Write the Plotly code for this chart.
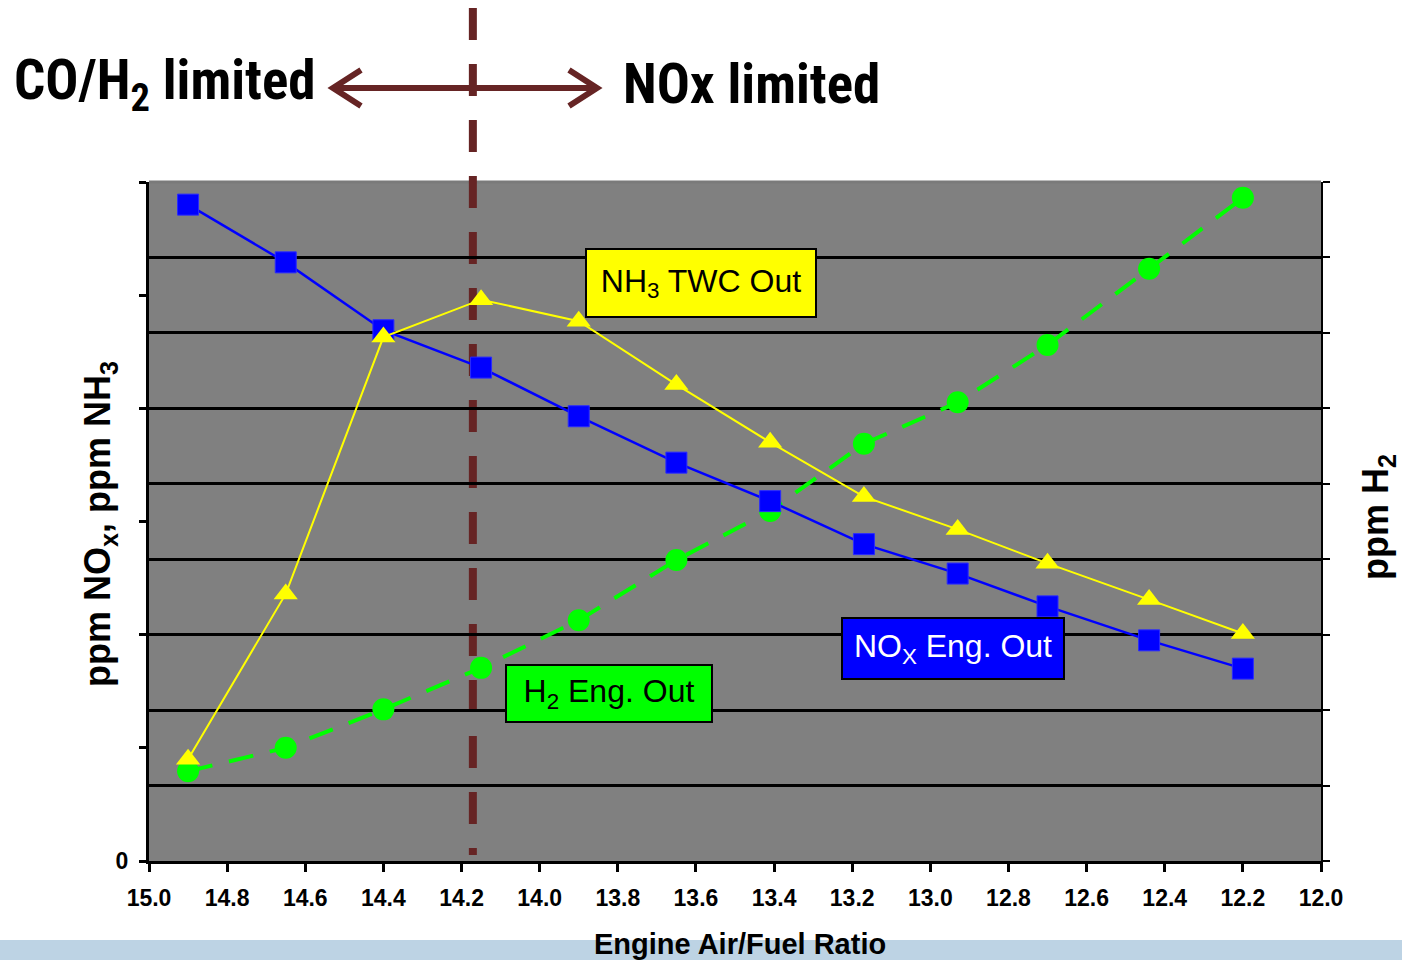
import plotly.graph_objects as go

# ---------------- data ----------------
afr = [14.90, 14.65, 14.40, 14.15, 13.90, 13.65, 13.41, 13.17, 12.93, 12.70, 12.44, 12.20]
nox_eng_out = [580, 529, 469, 436, 393, 352, 318, 280, 254, 225, 195, 170]
nh3_twc_out = [90, 236, 463, 496, 477, 421, 370, 322, 293, 263, 231, 201]
h2_eng_out = [119, 150, 201, 256, 319, 399, 464, 553, 608, 684, 785, 879]
x_ticks = [15.0, 14.8, 14.6, 14.4, 14.2, 14.0, 13.8, 13.6, 13.4, 13.2, 13.0, 12.8, 12.6, 12.4, 12.2, 12.0]
left_ticks = [0, 100, 200, 300, 400, 500, 600]
right_ticks = [0, 100, 200, 300, 400, 500, 600, 700, 800, 900]
boundary_afr = 14.171

W, H = 1402, 960
L, R, T, B = 149, 81, 182, 99
PW, PH = W - L - R, H - T - B


def px(xp):
    return (xp - L) / PW


def py(yp):
    return (H - B - yp) / PH


ARIAL = "Liberation Sans, Arial, sans-serif"
NARROW = "Liberation Sans Narrow, Arial Narrow, Roboto Condensed, DejaVu Sans Condensed, Liberation Sans, sans-serif"
BROWN = "#662424"

fig = go.Figure()

fig.add_trace(go.Scatter(
    x=afr, y=h2_eng_out, yaxis="y", mode="lines+markers", name="H2 Eng. Out",
    line=dict(color="#00ff00", width=4, dash="25px,17px"),
    marker=dict(symbol="circle", size=22, color="#00ff00"),
))
fig.add_trace(go.Scatter(
    x=afr, y=nox_eng_out, yaxis="y2", mode="lines+markers", name="NOx Eng. Out",
    line=dict(color="#0000ff", width=2.5),
    marker=dict(symbol="square", size=21, color="#0000ff", line=dict(color="#2a2aff", width=1)),
))
fig.add_trace(go.Scatter(
    x=afr, y=nh3_twc_out, yaxis="y2", mode="lines+markers", name="NH3 TWC Out",
    line=dict(color="#ffff00", width=2),
    marker=dict(symbol="triangle-up", size=21, color="#ffff00"),
))

tickfont = dict(family=ARIAL, size=23, color="black", weight="bold")

fig.update_layout(
    width=W, height=H,
    margin=dict(l=L, r=R, t=T, b=B),
    paper_bgcolor="white",
    plot_bgcolor="#808080",
    showlegend=False,
    xaxis=dict(
        range=[15.0, 12.0], tickvals=x_ticks, ticktext=[f"{v:.1f}" for v in x_ticks],
        showgrid=False, zeroline=False,
        showline=True, linecolor="black", linewidth=3,
        ticks="outside", ticklen=8, tickwidth=3, tickcolor="black",
        tickfont=tickfont, ticklabelstandoff=6,
    ),
    yaxis=dict(
        range=[0, 900], tickvals=right_ticks, side="right",
        showticklabels=False, showgrid=True, gridcolor="black", gridwidth=3,
        zeroline=False, showline=True, linecolor="black", linewidth=2,
        ticks="outside", ticklen=7, tickwidth=2, tickcolor="black",
    ),
    yaxis2=dict(
        range=[0, 600], tickvals=left_ticks,
        ticktext=["0" if v == 0 else "" for v in left_ticks],
        overlaying="y", side="left",
        showgrid=False, zeroline=False, showline=True, linecolor="black", linewidth=3,
        ticks="outside", ticklen=7, tickwidth=3, tickcolor="black",
        tickfont=tickfont, ticklabelstandoff=6,
    ),
)

shapes = []
# plot-area top edge (covers the top gridline)
shapes.append(dict(type="line", xref="paper", yref="paper", x0=0, x1=1, y0=1, y1=1,
                   line=dict(color="#7a7a7a", width=3), layer="between"))
# vertical boundary line
shapes.append(dict(type="line", xref="x", yref="paper", x0=boundary_afr, x1=boundary_afr,
                   y0=py(8), y1=py(855), line=dict(color=BROWN, width=8, dash="32px,24px"),
                   layer="between"))
# bottom light-blue band
shapes.append(dict(type="rect", xref="paper", yref="paper", x0=px(0), x1=px(W), y0=py(960), y1=py(940),
                   fillcolor="#bdd3e4", line=dict(width=0), layer="below"))
# double arrow
ay = py(88)
shapes.append(dict(type="line", xref="paper", yref="paper", x0=px(336), x1=px(594), y0=ay, y1=ay,
                   line=dict(color=BROWN, width=6)))
shapes.append(dict(type="path", xref="paper", yref="paper",
                   path=f"M {px(361)},{py(70)} L {px(333)},{py(88)} L {px(361)},{py(106)}",
                   line=dict(color=BROWN, width=6)))
shapes.append(dict(type="path", xref="paper", yref="paper",
                   path=f"M {px(569)},{py(70)} L {px(597)},{py(88)} L {px(569)},{py(106)}",
                   line=dict(color=BROWN, width=6)))
fig.update_layout(shapes=shapes)

ann = []
ann.append(dict(text="CO/H<sub>2</sub> limited", xref="paper", yref="paper", x=px(12), y=py(84),
                xanchor="left", yanchor="middle", showarrow=False,
                font=dict(family=NARROW, size=55, color="black", weight="bold")))
ann.append(dict(text="NOx limited", xref="paper", yref="paper", x=px(621), y=py(84),
                xanchor="left", yanchor="middle", showarrow=False,
                font=dict(family=NARROW, size=55, color="black", weight="bold")))
# series labels
ann.append(dict(text="NH<sub>3</sub> TWC Out", xref="paper", yref="paper", x=px(701), y=py(283),
                xanchor="center", yanchor="middle", showarrow=False,
                width=228, height=66, borderpad=0, bgcolor="#ffff00", bordercolor="black", borderwidth=2,
                font=dict(family=ARIAL, size=32, color="black")))
ann.append(dict(text="H<sub>2</sub> Eng. Out", xref="paper", yref="paper", x=px(609), y=py(693),
                xanchor="center", yanchor="middle", showarrow=False,
                width=204, height=55, borderpad=0, bgcolor="#00ff00", bordercolor="black", borderwidth=2,
                font=dict(family=ARIAL, size=32, color="black")))
ann.append(dict(text="NO<sub>X</sub> Eng. Out", xref="paper", yref="paper", x=px(953), y=py(648),
                xanchor="center", yanchor="middle", showarrow=False,
                width=220, height=59, borderpad=0, bgcolor="#0000ff", bordercolor="black", borderwidth=2,
                font=dict(family=ARIAL, size=32, color="white")))
# axis titles
ann.append(dict(text="ppm NO<sub>x</sub>, ppm NH<sub>3</sub>", xref="paper", yref="paper",
                x=px(100), y=py(524), xanchor="center", yanchor="middle", textangle=-90, showarrow=False,
                font=dict(family=ARIAL, size=36, color="black", weight="bold")))
ann.append(dict(text="ppm H<sub>2</sub>", xref="paper", yref="paper",
                x=px(1378), y=py(517), xanchor="center", yanchor="middle", textangle=-90, showarrow=False,
                font=dict(family=ARIAL, size=36, color="black", weight="bold")))
ann.append(dict(text="Engine Air/Fuel Ratio", xref="paper", yref="paper",
                x=px(740), y=py(944), xanchor="center", yanchor="middle", showarrow=False,
                font=dict(family=ARIAL, size=29, color="black", weight="bold")))
fig.update_layout(annotations=ann)

fig.write_html("out.html")
